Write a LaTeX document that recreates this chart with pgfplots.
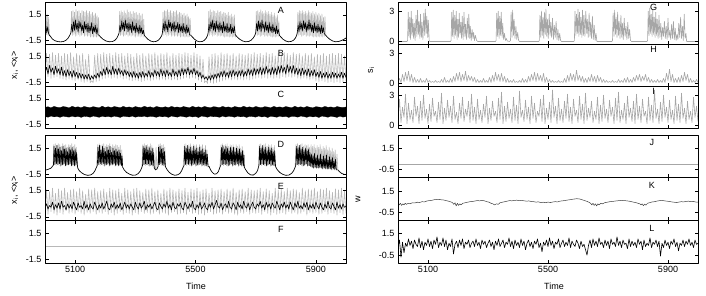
\documentclass[border=0pt]{standalone}
\usepackage{fontspec}
\setmainfont{Liberation Sans}
\usepackage{pgfplots}
\pgfplotsset{compat=1.18}
\definecolor{lg}{gray}{0.72}
\definecolor{mg}{gray}{0.65}
\pgfplotsset{
  pan/.style={scale only axis, anchor=north west, xmin=5000, xmax=6000,
    xtick={5100,5500,5900}, xticklabels={}, tick align=inside, major tick length=3.5pt,
    axis line style={line width=0.7pt}, every tick/.style={black,line width=0.6pt},
    axis on top, clip=true, line join=round},
  lft/.style={pan, width=301pt, ymin=-1.9, ymax=3, ytick={-1.5,1.5}, yticklabels={-1.5,1.5}},
  rtop/.style={pan, width=300pt, ymin=-0.25, ymax=3.9, ytick={0,3}, yticklabels={0,3}},
  rbot/.style={pan, width=300pt, ymin=-1.25, ymax=2.75, ytick={-0.5,1.5}, yticklabels={-0.5,1.5}},
}
\begin{document}
\begin{tikzpicture}[font=\fontsize{9}{10}\selectfont]
\path[use as bounding box] (0,0) rectangle (706pt,-295pt);
% ---------------- A
\begin{axis}[lft, at={(45pt,-2pt)}, height=42pt]
\addplot[lg, line width=0.6pt] coordinates {(5000,-0.9)(5002,1.8)(5005,-0.8)(5007,1.6)(5010,-0.9)(5012,1.2)(5015,-0.9)(5018,-1.0)
(5024,-1.3)(5032,-1.5)(5042,-1.62)(5052,-1.65)(5062,-1.6)(5070,-1.45)(5077,-1.2)(5082,-0.9)
(5086,-0.7)(5088,1.9)(5091,-0.9)(5093,2.0)(5096,-0.8)(5098,1.8)(5101,-1.0)(5103,2.1)(5106,-0.9)(5108,1.9)(5111,-0.8)(5113,2.0)(5116,-1.0)(5118,1.7)(5121,-0.9)(5123,2.0)(5126,-0.8)(5128,1.9)(5131,-1.0)(5133,1.8)(5136,-0.9)(5138,2.0)(5141,-1.0)(5143,1.7)(5146,-0.9)(5148,1.9)(5151,-1.1)(5153,1.6)(5156,-1.0)(5158,1.8)(5161,-1.1)(5163,1.5)(5166,-1.0)(5168,1.7)(5171,-1.1)(5173,1.4)(5176,-1.0)(5178,1.2)(5180,-0.9)
(5185,-1.1)(5193,-1.35)(5203,-1.55)(5213,-1.64)(5223,-1.62)(5231,-1.5)(5238,-1.25)(5243,-0.9)
(5246,-0.7)(5248,1.9)(5251,-0.9)(5253,2.0)(5256,-0.8)(5258,1.8)(5261,-1.0)(5263,2.0)(5266,-0.9)(5268,1.7)(5271,-0.8)(5273,2.1)(5276,-1.0)(5278,1.8)(5281,-0.9)(5283,1.9)(5286,-1.0)(5288,1.6)(5291,-0.9)(5293,1.9)(5296,-1.0)(5298,1.7)(5301,-1.1)(5303,1.8)(5306,-1.0)(5308,1.5)(5311,-1.0)(5313,1.7)(5316,-1.1)(5318,1.4)(5321,-1.0)(5323,1.6)(5326,-1.1)(5328,1.0)(5330,-0.9)
(5335,-1.1)(5342,-1.35)(5351,-1.55)(5360,-1.64)(5369,-1.6)(5377,-1.45)(5383,-1.2)(5388,-0.9)
(5390,-0.7)(5392,1.8)(5395,-0.9)(5397,2.0)(5400,-0.8)(5402,1.9)(5405,-1.0)(5407,2.1)(5410,-0.9)(5412,1.8)(5415,-0.8)(5417,2.0)(5420,-1.0)(5422,1.7)(5425,-0.9)(5427,1.9)(5430,-1.0)(5432,1.8)(5435,-0.9)(5437,2.0)(5440,-1.0)(5442,1.6)(5445,-0.9)(5447,1.8)(5450,-1.1)(5452,1.7)(5455,-1.0)(5457,1.5)(5460,-1.0)(5462,1.7)(5465,-1.1)(5467,1.4)(5470,-1.0)(5472,1.6)(5475,-1.1)(5477,1.3)(5480,-1.0)(5482,1.1)(5485,-0.9)
(5490,-1.1)(5497,-1.35)(5505,-1.55)(5514,-1.64)(5523,-1.6)(5530,-1.45)(5536,-1.2)(5540,-0.9)
(5542,-0.7)(5544,1.9)(5547,-0.9)(5549,2.1)(5552,-0.8)(5554,1.8)(5557,-1.0)(5559,2.0)(5562,-0.9)(5564,1.9)(5567,-0.8)(5569,1.7)(5572,-1.0)(5574,2.0)(5577,-0.9)(5579,1.8)(5582,-1.0)(5584,1.9)(5587,-0.9)(5589,1.6)(5592,-1.0)(5594,1.8)(5597,-1.1)(5599,1.7)(5602,-1.0)(5604,1.5)(5607,-1.0)(5609,1.8)(5612,-1.1)(5614,1.4)(5617,-1.0)(5619,1.6)(5622,-1.1)(5624,1.3)(5627,-1.0)(5629,1.5)(5632,-1.1)(5634,-0.9)
(5639,-1.1)(5647,-1.35)(5657,-1.55)(5667,-1.64)(5677,-1.6)(5685,-1.45)(5692,-1.2)(5697,-0.9)
(5700,-0.7)(5702,1.9)(5705,-0.9)(5707,2.0)(5710,-0.8)(5712,1.8)(5715,-1.0)(5717,2.1)(5720,-0.9)(5722,1.9)(5725,-0.8)(5727,1.7)(5730,-1.0)(5732,2.0)(5735,-0.9)(5737,1.8)(5740,-1.0)(5742,1.9)(5745,-0.9)(5747,1.6)(5750,-1.0)(5752,1.8)(5755,-1.1)(5757,1.5)(5760,-1.0)(5762,1.7)(5765,-1.1)(5767,1.3)(5770,-1.0)(5772,1.5)(5775,-1.0)(5777,0.8)(5779,-0.9)
(5784,-1.1)(5791,-1.35)(5800,-1.55)(5809,-1.64)(5818,-1.6)(5826,-1.45)(5832,-1.2)(5836,-0.9)
(5838,-0.7)(5840,1.8)(5843,-0.9)(5845,2.0)(5848,-0.8)(5850,1.9)(5853,-1.0)(5855,2.0)(5858,-0.9)(5860,1.8)(5863,-0.8)(5865,1.9)(5868,-1.0)(5870,1.7)(5873,-0.9)(5875,2.0)(5878,-1.0)(5880,1.8)(5883,-0.9)(5885,1.7)(5888,-1.0)(5890,1.9)(5893,-1.1)(5895,1.6)(5898,-1.0)(5900,1.8)(5903,-1.1)(5905,1.5)(5908,-1.0)(5910,1.7)(5913,-1.1)(5915,1.4)(5918,-1.0)(5920,1.6)(5923,-1.1)(5925,1.2)(5928,-1.0)(5930,1.3)(5933,-0.9)
(5938,-1.1)(5946,-1.35)(5956,-1.55)(5966,-1.64)(5976,-1.6)(5985,-1.5)(5993,-1.35)(6000,-1.2)};
\addplot[black, line width=0.6pt] coordinates {(5000,-0.9)(5003,0.2)(5006,-0.6)(5009,0.1)(5012,-0.7)(5015,-0.9)(5018,-1.0)
(5024,-1.3)(5032,-1.5)(5042,-1.62)(5052,-1.65)(5062,-1.6)(5070,-1.45)(5077,-1.2)(5082,-0.9)
(5086,-0.6)(5089,0.4)(5092,-0.5)(5095,0.7)(5098,-0.3)(5101,0.9)(5104,-0.2)(5107,0.5)(5110,-0.5)(5113,0.8)(5116,-0.1)(5119,0.6)(5122,-0.4)(5125,0.3)(5128,-0.6)(5131,0.7)(5134,-0.2)(5137,0.4)(5140,-0.5)(5143,0.5)(5146,-0.6)(5149,0.2)(5152,-0.4)(5155,0.6)(5158,-0.7)(5161,0.1)(5164,-0.5)(5167,0.3)(5170,-0.7)(5173,0.0)(5176,-0.8)(5180,-0.9)
(5185,-1.1)(5193,-1.35)(5203,-1.55)(5213,-1.64)(5223,-1.62)(5231,-1.5)(5238,-1.25)(5243,-0.9)
(5246,-0.6)(5249,0.3)(5252,-0.5)(5255,0.8)(5258,-0.2)(5261,0.6)(5264,-0.4)(5267,0.9)(5270,-0.1)(5273,0.5)(5276,-0.5)(5279,0.6)(5282,-0.3)(5285,0.4)(5288,-0.6)(5291,0.7)(5294,-0.3)(5297,0.2)(5300,-0.6)(5303,0.5)(5306,-0.5)(5309,0.1)(5312,-0.7)(5315,0.3)(5318,-0.6)(5321,0.0)(5324,-0.7)(5327,-0.3)(5330,-0.9)
(5335,-1.1)(5342,-1.35)(5351,-1.55)(5360,-1.64)(5369,-1.6)(5377,-1.45)(5383,-1.2)(5388,-0.9)
(5390,-0.6)(5393,0.5)(5396,-0.4)(5399,0.8)(5402,-0.2)(5405,0.4)(5408,-0.5)(5411,0.9)(5414,0.0)(5417,0.6)(5420,-0.4)(5423,0.5)(5426,-0.3)(5429,0.7)(5432,-0.5)(5435,0.3)(5438,-0.2)(5441,0.6)(5444,-0.6)(5447,0.4)(5450,-0.4)(5453,0.2)(5456,-0.6)(5459,0.5)(5462,-0.5)(5465,0.1)(5468,-0.7)(5471,0.3)(5474,-0.6)(5477,0.0)(5480,-0.8)(5485,-0.9)
(5490,-1.1)(5497,-1.35)(5505,-1.55)(5514,-1.64)(5523,-1.6)(5530,-1.45)(5536,-1.2)(5540,-0.9)
(5542,-0.6)(5545,0.4)(5548,-0.4)(5551,0.7)(5554,-0.1)(5557,0.9)(5560,-0.3)(5563,0.5)(5566,-0.5)(5569,0.8)(5572,-0.2)(5575,0.4)(5578,-0.5)(5581,0.6)(5584,-0.3)(5587,0.3)(5590,-0.6)(5593,0.7)(5596,-0.4)(5599,0.2)(5602,-0.5)(5605,0.5)(5608,-0.6)(5611,0.1)(5614,-0.5)(5617,0.4)(5620,-0.7)(5623,0.0)(5626,-0.6)(5629,0.2)(5632,-0.8)(5634,-0.9)
(5639,-1.1)(5647,-1.35)(5657,-1.55)(5667,-1.64)(5677,-1.6)(5685,-1.45)(5692,-1.2)(5697,-0.9)
(5700,-0.6)(5703,0.5)(5706,-0.4)(5709,0.8)(5712,-0.2)(5715,0.6)(5718,-0.5)(5721,0.9)(5724,-0.1)(5727,0.4)(5730,-0.5)(5733,0.7)(5736,-0.3)(5739,0.3)(5742,-0.6)(5745,0.6)(5748,-0.4)(5751,0.2)(5754,-0.6)(5757,0.4)(5760,-0.5)(5763,0.0)(5766,-0.7)(5769,0.2)(5772,-0.7)(5775,-0.2)(5779,-0.9)
(5784,-1.1)(5791,-1.35)(5800,-1.55)(5809,-1.64)(5818,-1.6)(5826,-1.45)(5832,-1.2)(5836,-0.9)
(5838,-0.6)(5841,0.3)(5844,-0.5)(5847,0.7)(5850,-0.2)(5853,0.5)(5856,-0.4)(5859,0.8)(5862,-0.1)(5865,0.6)(5868,-0.5)(5871,0.4)(5874,-0.3)(5877,0.9)(5880,-0.2)(5883,0.5)(5886,-0.5)(5889,0.3)(5892,-0.6)(5895,0.6)(5898,-0.4)(5901,0.2)(5904,-0.6)(5907,0.4)(5910,-0.5)(5913,0.1)(5916,-0.7)(5919,0.3)(5922,-0.6)(5925,0.0)(5928,-0.7)(5933,-0.9)
(5938,-1.1)(5946,-1.35)(5956,-1.55)(5966,-1.64)(5976,-1.6)(5985,-1.5)(5993,-1.35)(6000,-1.2)};
\node at (rel axis cs:0.784,0.8) {A};
\end{axis}
% ---------------- B
\begin{axis}[lft, at={(45pt,-44pt)}, height=42pt]
\addplot[lg, line width=0.6pt] coordinates {(5000,-0.9)(5005,1.9)(5010,-0.8)(5015,1.8)(5020,-1.0)(5025,2.0)(5030,-0.9)(5035,1.7)(5040,-0.8)(5045,1.9)(5050,-1.0)(5055,1.6)(5060,-1.1)(5065,1.9)(5070,-1.2)(5075,1.8)(5080,-1.1)(5085,2.0)(5090,-1.2)(5095,1.5)(5100,-1.3)(5105,1.9)(5110,-1.2)(5115,1.7)(5120,-1.4)(5125,1.9)(5130,-1.5)(5135,1.2)(5140,-1.4)(5145,1.8)(5150,-1.5)(5155,-1.3)(5160,-1.5)(5165,1.7)(5170,-1.4)(5175,1.9)(5180,-1.3)(5185,1.8)(5190,-1.1)(5195,2.0)(5200,-1.0)(5205,1.8)(5210,-0.9)(5215,1.9)(5220,-1.0)(5225,1.7)(5230,-0.9)(5235,2.0)(5240,-1.0)(5245,1.8)(5250,-0.9)(5255,1.9)(5260,-1.1)(5265,1.6)(5270,-1.0)(5275,1.9)(5280,-1.2)(5285,1.8)(5290,-1.3)(5295,1.5)(5300,-1.2)(5305,1.9)(5310,-1.3)(5315,1.7)(5320,-1.4)(5325,1.9)(5330,-1.3)(5335,1.6)(5340,-1.2)(5345,1.9)(5350,-1.3)(5355,1.8)(5360,-1.2)(5365,2.0)(5370,-1.1)(5375,1.7)(5380,-1.2)(5385,1.9)(5390,-1.1)(5395,1.8)(5400,-1.2)(5405,2.0)(5410,-1.1)(5415,1.6)(5420,-1.2)(5425,1.9)(5430,-1.1)(5435,1.7)(5440,-1.2)(5445,1.9)(5450,-1.1)(5455,1.8)(5460,-1.0)(5465,2.0)(5470,-0.9)(5475,1.9)(5480,-1.0)(5485,1.7)(5490,-0.9)(5495,2.0)(5500,-1.0)(5505,1.8)(5510,-1.2)(5515,1.6)(5520,-1.4)(5525,1.2)(5530,-1.5)(5535,-1.3)(5540,-1.6)(5545,1.5)(5550,-1.5)(5555,1.8)(5560,-1.6)(5565,1.9)(5570,-1.5)(5575,1.7)(5580,-1.4)(5585,2.0)(5590,-1.3)(5595,1.8)(5600,-1.2)(5605,1.9)(5610,-1.1)(5615,1.7)(5620,-1.2)(5625,1.9)(5630,-1.1)(5635,1.6)(5640,-1.2)(5645,1.9)(5650,-1.1)(5655,1.8)(5660,-1.2)(5665,1.7)(5670,-1.1)(5675,1.9)(5680,-1.2)(5685,1.8)(5690,-1.1)(5695,2.0)(5700,-1.0)(5705,1.8)(5710,-0.9)(5715,1.9)(5720,-1.0)(5725,1.7)(5730,-0.9)(5735,2.0)(5740,-1.0)(5745,1.8)(5750,-0.9)(5755,1.9)(5760,-1.0)(5765,1.6)(5770,-0.9)(5775,1.9)(5780,-1.0)(5785,1.8)(5790,-0.8)(5795,2.0)(5800,-0.9)(5805,1.9)(5810,-0.8)(5815,1.7)(5820,-0.9)(5825,2.0)(5830,-0.8)(5835,1.8)(5840,-1.0)(5845,1.9)(5850,-1.1)(5855,1.6)(5860,-1.0)(5865,1.9)(5870,-1.1)(5875,1.7)(5880,-1.2)(5885,1.9)(5890,-1.1)(5895,1.5)(5900,-1.3)(5905,1.8)(5910,-1.4)(5915,1.7)(5920,-1.3)(5925,1.9)(5930,-1.4)(5935,1.6)(5940,-1.5)(5945,1.8)(5950,-1.4)(5955,1.9)(5960,-1.5)(5965,1.7)(5970,-1.4)(5975,1.9)(5980,-1.5)(5985,1.8)(5990,-1.4)(5995,1.6)(6000,-1.3)};
\addplot[black, line width=0.6pt] coordinates {(5000,-0.4)(5005,0.3)(5010,-0.5)(5015,0.5)(5020,-0.3)(5025,0.2)(5030,-0.6)(5035,0.4)(5040,-0.4)(5045,0.1)(5050,-0.6)(5055,0.3)(5060,-0.7)(5065,-0.1)(5070,-0.8)(5075,0.0)(5080,-0.7)(5085,-0.2)(5090,-0.9)(5095,-0.1)(5100,-0.8)(5105,-0.3)(5110,-1.0)(5115,-0.4)(5120,-1.0)(5125,-0.5)(5130,-1.1)(5135,-0.6)(5140,-1.1)(5145,-0.5)(5150,-1.2)(5155,-0.7)(5160,-1.1)(5165,-0.6)(5170,-1.0)(5175,-0.4)(5180,-0.9)(5185,-0.2)(5190,-0.7)(5195,0.1)(5200,-0.6)(5205,0.3)(5210,-0.5)(5215,0.0)(5220,-0.6)(5225,0.4)(5230,-0.5)(5235,0.1)(5240,-0.6)(5245,0.2)(5250,-0.5)(5255,-0.1)(5260,-0.7)(5265,0.0)(5270,-0.6)(5275,-0.2)(5280,-0.8)(5285,-0.3)(5290,-0.9)(5295,-0.2)(5300,-0.9)(5305,-0.4)(5310,-1.0)(5315,-0.3)(5320,-0.9)(5325,-0.2)(5330,-0.9)(5335,-0.4)(5340,-0.8)(5345,-0.1)(5350,-0.9)(5355,-0.3)(5360,-0.8)(5365,0.0)(5370,-0.7)(5375,-0.2)(5380,-0.8)(5385,0.1)(5390,-0.7)(5395,-0.1)(5400,-0.8)(5405,0.0)(5410,-0.7)(5415,-0.3)(5420,-0.8)(5425,0.1)(5430,-0.7)(5435,-0.2)(5440,-0.8)(5445,0.0)(5450,-0.7)(5455,0.2)(5460,-0.6)(5465,0.1)(5470,-0.5)(5475,0.3)(5480,-0.6)(5485,0.0)(5490,-0.5)(5495,0.2)(5500,-0.6)(5505,-0.1)(5510,-0.8)(5515,-0.3)(5520,-1.0)(5525,-0.6)(5530,-1.1)(5535,-0.8)(5540,-1.2)(5545,-0.7)(5550,-1.2)(5555,-0.6)(5560,-1.1)(5565,-0.5)(5570,-1.0)(5575,-0.4)(5580,-0.9)(5585,-0.2)(5590,-0.8)(5595,-0.1)(5600,-0.8)(5605,-0.3)(5610,-0.9)(5615,-0.1)(5620,-0.8)(5625,0.0)(5630,-0.7)(5635,-0.2)(5640,-0.8)(5645,-0.1)(5650,-0.7)(5655,0.0)(5660,-0.8)(5665,-0.2)(5670,-0.7)(5675,0.1)(5680,-0.6)(5685,0.0)(5690,-0.7)(5695,0.2)(5700,-0.6)(5705,0.1)(5710,-0.5)(5715,0.3)(5720,-0.6)(5725,0.2)(5730,-0.5)(5735,0.4)(5740,-0.4)(5745,0.1)(5750,-0.6)(5755,0.3)(5760,-0.5)(5765,0.2)(5770,-0.6)(5775,0.4)(5780,-0.4)(5785,0.5)(5790,-0.3)(5795,0.3)(5800,-0.5)(5805,0.6)(5810,-0.3)(5815,0.4)(5820,-0.4)(5825,0.5)(5830,-0.5)(5835,0.2)(5840,-0.6)(5845,0.1)(5850,-0.7)(5855,0.2)(5860,-0.6)(5865,0.0)(5870,-0.7)(5875,0.1)(5880,-0.8)(5885,-0.1)(5890,-0.7)(5895,0.0)(5900,-0.8)(5905,-0.3)(5910,-0.9)(5915,-0.2)(5920,-1.0)(5925,-0.4)(5930,-0.9)(5935,-0.3)(5940,-1.0)(5945,-0.5)(5950,-1.0)(5955,-0.3)(5960,-0.9)(5965,-0.4)(5970,-1.0)(5975,-0.5)(5980,-0.9)(5985,-0.3)(5990,-1.0)(5995,-0.4)(6000,-0.9)};
\node at (rel axis cs:0.784,0.78) {B};
\end{axis}
% ---------------- C
\begin{axis}[lft, at={(45pt,-86pt)}, height=42pt]
\addplot[fill=black, draw=black, line width=0.3pt] coordinates {(5000,0.50)(5010,0.58)(5020,0.45)(5030,0.62)(5040,0.52)(5050,0.47)(5060,0.60)(5070,0.55)(5080,0.44)(5090,0.63)(5100,0.51)(5110,0.57)(5120,0.46)(5130,0.61)(5140,0.53)(5150,0.48)(5160,0.59)(5170,0.52)(5180,0.45)(5190,0.64)(5200,0.49)(5210,0.58)(5220,0.47)(5230,0.60)(5240,0.54)(5250,0.46)(5260,0.62)(5270,0.50)(5280,0.56)(5290,0.45)(5300,0.60)(5310,0.52)(5320,0.48)(5330,0.63)(5340,0.51)(5350,0.57)(5360,0.44)(5370,0.61)(5380,0.53)(5390,0.49)(5400,0.58)(5410,0.46)(5420,0.62)(5430,0.51)(5440,0.55)(5450,0.47)(5460,0.60)(5470,0.53)(5480,0.45)(5490,0.63)(5500,0.50)(5510,0.57)(5520,0.48)(5530,0.61)(5540,0.52)(5550,0.46)(5560,0.59)(5570,0.54)(5580,0.47)(5590,0.62)(5600,0.51)(5610,0.56)(5620,0.45)(5630,0.60)(5640,0.53)(5650,0.49)(5660,0.63)(5670,0.50)(5680,0.57)(5690,0.46)(5700,0.61)(5710,0.52)(5720,0.47)(5730,0.59)(5740,0.54)(5750,0.45)(5760,0.62)(5770,0.51)(5780,0.56)(5790,0.48)(5800,0.60)(5810,0.53)(5820,0.46)(5830,0.63)(5840,0.50)(5850,0.57)(5860,0.47)(5870,0.61)(5880,0.52)(5890,0.45)(5900,0.59)(5910,0.54)(5920,0.48)(5930,0.62)(5940,0.51)(5950,0.56)(5960,0.46)(5970,0.60)(5980,0.53)(5990,0.49)(6000,0.55)
(6000,-0.56)(5990,-0.63)(5980,-0.51)(5970,-0.66)(5960,-0.58)(5950,-0.52)(5940,-0.64)(5930,-0.57)(5920,-0.50)(5910,-0.67)(5900,-0.55)(5890,-0.61)(5880,-0.52)(5870,-0.65)(5860,-0.57)(5850,-0.50)(5840,-0.63)(5830,-0.56)(5820,-0.53)(5810,-0.66)(5800,-0.54)(5790,-0.60)(5780,-0.51)(5770,-0.64)(5760,-0.58)(5750,-0.52)(5740,-0.67)(5730,-0.55)(5720,-0.61)(5710,-0.50)(5700,-0.63)(5690,-0.57)(5680,-0.53)(5670,-0.66)(5660,-0.55)(5650,-0.60)(5640,-0.51)(5630,-0.64)(5620,-0.56)(5610,-0.52)(5600,-0.62)(5590,-0.50)(5580,-0.65)(5570,-0.57)(5560,-0.59)(5550,-0.51)(5540,-0.64)(5530,-0.56)(5520,-0.50)(5510,-0.67)(5500,-0.55)(5490,-0.61)(5480,-0.52)(5470,-0.64)(5460,-0.57)(5450,-0.51)(5440,-0.63)(5430,-0.58)(5420,-0.50)(5410,-0.66)(5400,-0.54)(5390,-0.60)(5380,-0.52)(5370,-0.65)(5360,-0.57)(5350,-0.53)(5340,-0.62)(5330,-0.51)(5320,-0.59)(5310,-0.55)(5300,-0.64)(5290,-0.50)(5280,-0.61)(5270,-0.56)(5260,-0.52)(5250,-0.66)(5240,-0.58)(5230,-0.51)(5220,-0.63)(5210,-0.55)(5200,-0.60)(5190,-0.52)(5180,-0.65)(5170,-0.57)(5160,-0.50)(5150,-0.64)(5140,-0.56)(5130,-0.53)(5120,-0.66)(5110,-0.54)(5100,-0.61)(5090,-0.51)(5080,-0.63)(5070,-0.58)(5060,-0.52)(5050,-0.65)(5040,-0.55)(5030,-0.60)(5020,-0.50)(5010,-0.64)(5000,-0.56)};
\node at (rel axis cs:0.784,0.79) {C};
\end{axis}
% ---------------- D
\begin{axis}[lft, at={(45pt,-135pt)}, height=42.67pt]
\addplot[lg, line width=0.6pt] coordinates {(5000,-1.05)(5010,-0.95)(5020,-0.8)(5027,-0.5)
(5029,1.9)(5032,-0.4)(5034,2.0)(5037,-0.5)(5039,1.8)(5042,-0.4)(5044,2.0)(5047,-0.5)(5049,1.9)(5052,-0.6)(5054,1.7)(5057,-0.5)(5059,2.0)(5062,-0.4)(5064,1.8)(5067,-0.6)(5069,1.9)(5072,-0.5)(5074,1.6)(5077,-0.5)(5079,1.9)(5082,-0.4)(5084,1.8)(5087,-0.6)(5089,2.0)(5092,-0.5)(5094,1.7)(5097,-0.6)(5099,1.9)(5102,-0.5)(5104,1.6)(5107,-0.6)(5109,-0.8)
(5114,-1.1)(5122,-1.35)(5132,-1.55)(5142,-1.63)(5152,-1.58)(5160,-1.4)(5166,-1.1)(5171,-0.7)
(5175,1.9)(5178,-0.4)(5180,2.0)(5183,-0.5)(5185,1.8)(5188,-0.4)(5190,1.9)(5193,-0.5)(5195,2.0)(5198,-0.6)(5200,1.7)(5203,-0.5)(5205,1.9)(5208,-0.4)(5210,1.8)(5213,-0.6)(5215,2.0)(5218,-0.5)(5220,1.6)(5223,-0.5)(5225,1.9)(5228,-0.4)(5230,1.7)(5233,-0.6)(5235,1.9)(5238,-0.5)(5240,1.8)(5243,-0.6)(5245,1.6)(5248,-0.5)(5250,1.8)(5253,-0.6)(5255,1.3)(5258,-0.7)
(5263,-1.0)(5271,-1.3)(5281,-1.5)(5291,-1.62)(5301,-1.6)(5310,-1.42)(5317,-1.1)(5322,-0.7)
(5325,1.9)(5328,-0.4)(5330,2.0)(5333,-0.5)(5335,1.8)(5338,-0.4)(5340,1.9)(5343,-0.5)(5345,1.7)(5348,-0.6)(5350,2.0)(5353,-0.5)(5355,1.8)(5358,-0.6)(5360,1.5)(5363,-0.8)(5367,-1.0)(5369,1.6)(5372,-0.9)(5376,-0.6)(5378,1.9)(5381,-0.4)(5383,2.0)(5386,-0.5)(5388,1.8)(5391,-0.5)(5393,1.9)(5396,-0.6)(5398,1.6)(5401,-0.7)
(5406,-1.0)(5413,-1.3)(5422,-1.52)(5431,-1.62)(5440,-1.58)(5448,-1.42)(5454,-1.1)(5459,-0.7)
(5463,1.9)(5466,-0.4)(5468,2.0)(5471,-0.5)(5473,1.8)(5476,-0.4)(5478,1.9)(5481,-0.5)(5483,2.0)(5486,-0.6)(5488,1.7)(5491,-0.5)(5493,1.9)(5496,-0.4)(5498,1.8)(5501,-0.6)(5503,1.9)(5506,-0.5)(5508,1.6)(5511,-0.5)(5513,1.9)(5516,-0.4)(5518,1.7)(5521,-0.6)(5523,1.9)(5526,-0.5)(5528,1.5)(5531,-0.6)(5533,1.8)(5536,-0.6)(5538,1.3)(5541,-0.7)(5545,-0.6)
(5550,-1.0)(5556,-1.3)(5563,-1.5)(5570,-1.45)(5576,-1.2)(5581,-0.7)
(5585,1.9)(5588,-0.4)(5590,2.0)(5593,-0.5)(5595,1.8)(5598,-0.4)(5600,1.9)(5603,-0.5)(5605,2.0)(5608,-0.6)(5610,1.7)(5613,-0.5)(5615,1.9)(5618,-0.4)(5620,1.8)(5623,-0.6)(5625,1.9)(5628,-0.5)(5630,1.6)(5633,-0.5)(5635,1.9)(5638,-0.4)(5640,1.7)(5643,-0.6)(5645,1.9)(5648,-0.5)(5650,1.5)(5653,-0.6)(5655,1.7)(5658,-0.6)(5660,1.2)(5662,-0.7)
(5667,-1.0)(5674,-1.35)(5683,-1.58)(5692,-1.6)(5700,-1.4)(5706,-1.1)(5709,-0.7)
(5712,1.9)(5715,-0.4)(5717,2.0)(5720,-0.5)(5722,1.8)(5725,-0.4)(5727,1.9)(5730,-0.5)(5732,2.0)(5735,-0.6)(5737,1.7)(5740,-0.5)(5742,1.9)(5745,-0.4)(5747,1.8)(5750,-0.6)(5752,1.9)(5755,-0.5)(5757,1.6)(5760,-0.5)(5762,1.8)(5765,-0.6)(5767,-0.7)
(5772,-1.0)(5780,-1.3)(5790,-1.52)(5800,-1.63)(5810,-1.6)(5819,-1.42)(5826,-1.1)(5831,-0.7)
(5834,1.9)(5837,-0.4)(5839,2.0)(5842,-0.5)(5844,1.8)(5847,-0.4)(5849,1.9)(5852,-0.5)(5854,2.0)(5857,-0.6)(5859,1.7)(5862,-0.5)(5864,1.9)(5867,-0.4)(5869,1.8)(5872,-0.6)(5874,1.9)(5877,-0.5)(5879,1.6)(5882,-0.6)(5884,1.9)(5887,-0.7)(5889,1.7)(5892,-0.8)(5894,1.9)(5897,-0.7)(5899,1.5)(5902,-0.8)(5904,1.8)(5907,-0.7)(5909,1.6)(5912,-0.8)(5914,1.9)(5917,-0.7)(5919,1.4)(5922,-0.8)(5924,1.7)(5927,-0.7)(5929,1.5)(5932,-0.8)(5934,1.8)(5937,-0.8)(5939,1.3)(5942,-0.8)(5944,1.6)(5947,-0.8)(5949,1.2)(5952,-0.9)(5954,1.5)(5957,-0.8)(5959,1.1)(5962,-0.9)(5964,1.3)(5967,-0.9)(5970,0.8)(5973,-1.0)
(5978,-1.2)(5985,-1.4)(5992,-1.5)(6000,-1.55)};
\addplot[black, line width=0.6pt] coordinates {(5000,-1.05)(5010,-0.95)(5020,-0.8)(5027,-0.5)
(5028,-0.5)(5030,1.7)(5033,-0.4)(5035,1.5)(5038,-0.3)(5040,1.8)(5043,-0.4)(5045,1.4)(5048,-0.3)(5050,1.6)(5053,-0.5)(5055,1.2)(5058,-0.4)(5060,1.7)(5063,-0.3)(5065,1.4)(5068,-0.5)(5070,1.5)(5073,-0.4)(5075,1.1)(5078,-0.4)(5080,1.6)(5083,-0.3)(5085,1.3)(5088,-0.5)(5090,1.6)(5093,-0.4)(5095,1.2)(5098,-0.5)(5100,1.4)(5103,-0.4)(5105,1.0)(5108,-0.6)(5109,-0.8)
(5114,-1.1)(5122,-1.35)(5132,-1.55)(5142,-1.63)(5152,-1.58)(5160,-1.4)(5166,-1.1)(5171,-0.7)
(5174,-0.5)(5176,1.6)(5179,-0.4)(5181,1.8)(5184,-0.3)(5186,1.3)(5189,-0.4)(5191,1.7)(5194,-0.3)(5196,1.5)(5199,-0.5)(5201,1.1)(5204,-0.4)(5206,1.6)(5209,-0.3)(5211,1.3)(5214,-0.5)(5216,1.7)(5219,-0.4)(5221,1.0)(5224,-0.4)(5226,1.5)(5229,-0.3)(5231,1.2)(5234,-0.5)(5236,1.4)(5239,-0.4)(5241,1.1)(5244,-0.5)(5246,1.3)(5249,-0.4)(5251,0.9)(5254,-0.5)(5256,0.6)(5258,-0.7)
(5263,-1.0)(5271,-1.3)(5281,-1.5)(5291,-1.62)(5301,-1.6)(5310,-1.42)(5317,-1.1)(5322,-0.7)
(5324,-0.5)(5326,1.7)(5329,-0.4)(5331,1.5)(5334,-0.3)(5336,1.8)(5339,-0.4)(5341,1.3)(5344,-0.3)(5346,1.6)(5349,-0.5)(5351,1.2)(5354,-0.4)(5356,1.5)(5359,-0.5)(5361,1.0)(5363,-0.8)(5367,-1.0)(5372,-0.9)(5376,-0.6)(5377,1.6)(5380,-0.4)(5382,1.7)(5385,-0.3)(5387,1.4)(5390,-0.4)(5392,1.5)(5395,-0.5)(5397,1.1)(5400,-0.6)(5401,-0.7)
(5406,-1.0)(5413,-1.3)(5422,-1.52)(5431,-1.62)(5440,-1.58)(5448,-1.42)(5454,-1.1)(5459,-0.7)
(5462,-0.5)(5464,1.7)(5467,-0.4)(5469,1.5)(5472,-0.3)(5474,1.8)(5477,-0.4)(5479,1.4)(5482,-0.3)(5484,1.6)(5487,-0.5)(5489,1.2)(5492,-0.4)(5494,1.7)(5497,-0.3)(5499,1.3)(5502,-0.5)(5504,1.5)(5507,-0.4)(5509,1.1)(5512,-0.4)(5514,1.6)(5517,-0.3)(5519,1.2)(5522,-0.5)(5524,1.4)(5527,-0.4)(5529,1.0)(5532,-0.5)(5534,1.3)(5537,-0.5)(5539,0.8)(5542,-0.6)(5545,-0.6)
(5550,-1.0)(5556,-1.3)(5563,-1.5)(5570,-1.45)(5576,-1.2)(5581,-0.7)
(5584,-0.5)(5586,1.6)(5589,-0.4)(5591,1.8)(5594,-0.3)(5596,1.4)(5599,-0.4)(5601,1.7)(5604,-0.3)(5606,1.5)(5609,-0.5)(5611,1.2)(5614,-0.4)(5616,1.6)(5619,-0.3)(5621,1.3)(5624,-0.5)(5626,1.6)(5629,-0.4)(5631,1.1)(5634,-0.4)(5636,1.5)(5639,-0.3)(5641,1.2)(5644,-0.5)(5646,1.4)(5649,-0.4)(5651,1.0)(5654,-0.5)(5656,1.2)(5659,-0.5)(5661,0.7)(5662,-0.7)
(5667,-1.0)(5674,-1.35)(5683,-1.58)(5692,-1.6)(5700,-1.4)(5706,-1.1)(5709,-0.7)
(5711,-0.5)(5713,1.7)(5716,-0.4)(5718,1.5)(5721,-0.3)(5723,1.8)(5726,-0.4)(5728,1.4)(5731,-0.3)(5733,1.6)(5736,-0.5)(5738,1.2)(5741,-0.4)(5743,1.6)(5746,-0.3)(5748,1.3)(5751,-0.5)(5753,1.5)(5756,-0.4)(5758,1.1)(5761,-0.5)(5763,1.2)(5766,-0.6)(5767,-0.7)
(5772,-1.0)(5780,-1.3)(5790,-1.52)(5800,-1.63)(5810,-1.6)(5819,-1.42)(5826,-1.1)(5831,-0.7)
(5833,-0.5)(5835,1.7)(5838,-0.4)(5840,1.5)(5843,-0.3)(5845,1.8)(5848,-0.4)(5850,1.4)(5853,-0.3)(5855,1.6)(5858,-0.5)(5860,1.2)(5863,-0.4)(5865,1.5)(5868,-0.3)(5870,1.3)(5873,-0.5)(5875,1.4)(5878,-0.5)(5880,1.0)(5883,-0.6)(5885,0.8)(5888,-0.7)(5890,0.6)(5893,-0.8)(5895,0.9)(5898,-0.7)(5900,0.4)(5903,-0.8)(5905,0.7)(5908,-0.8)(5910,0.3)(5913,-0.7)(5915,0.8)(5918,-0.8)(5920,0.2)(5923,-0.9)(5925,0.6)(5928,-0.8)(5930,0.3)(5933,-0.9)(5935,0.7)(5938,-0.9)(5940,0.1)(5943,-0.9)(5945,0.5)(5948,-0.9)(5950,0.2)(5953,-1.0)(5955,0.4)(5958,-0.9)(5960,0.0)(5963,-1.0)(5965,0.2)(5968,-1.0)(5973,-1.0)
(5978,-1.2)(5985,-1.4)(5992,-1.5)(6000,-1.55)};
\node at (rel axis cs:0.784,0.77) {D};
\end{axis}
% ---------------- E
\begin{axis}[lft, at={(45pt,-177.67pt)}, height=42.67pt]
\addplot[lg, line width=0.6pt] coordinates {(5000,-1.0)(5005,1.6)(5010,-1.2)(5015,1.4)(5020,-0.9)(5025,1.8)(5030,-1.1)(5035,1.2)(5040,-1.3)(5045,1.7)(5050,-1.0)(5055,1.5)(5060,-1.2)(5065,1.8)(5070,-0.8)(5075,1.3)(5080,-1.1)(5085,1.6)(5090,-1.0)(5095,1.7)
(5100,-1.2)(5105,1.4)(5110,-0.9)(5115,1.8)(5120,-1.1)(5125,1.5)(5130,-1.3)(5135,1.1)(5140,-1.0)(5145,1.7)(5150,-1.1)(5155,1.6)(5160,-0.9)(5165,1.8)(5170,-1.2)(5175,1.4)(5180,-1.0)(5185,1.5)(5190,-1.1)(5195,1.7)
(5200,-0.9)(5205,1.3)(5210,-1.2)(5215,1.8)(5220,-1.0)(5225,1.6)(5230,-1.3)(5235,1.5)(5240,-1.1)(5245,1.7)(5250,-0.9)(5255,1.2)(5260,-1.2)(5265,1.8)(5270,-1.0)(5275,1.6)(5280,-1.1)(5285,1.4)(5290,-1.3)(5295,1.7)
(5300,-1.0)(5305,1.8)(5310,-1.2)(5315,1.5)(5320,-0.9)(5325,1.3)(5330,-1.1)(5335,1.7)(5340,-1.0)(5345,1.6)(5350,-1.2)(5355,1.8)(5360,-1.1)(5365,1.4)(5370,-0.9)(5375,1.6)(5380,-1.2)(5385,1.2)(5390,-1.0)(5395,1.7)
(5400,-1.1)(5405,1.5)(5410,-1.3)(5415,1.8)(5420,-1.0)(5425,1.6)(5430,-0.9)(5435,1.4)(5440,-1.2)(5445,1.7)(5450,-1.1)(5455,1.5)(5460,-1.0)(5465,1.8)(5470,-1.2)(5475,1.3)(5480,-0.9)(5485,1.7)(5490,-1.1)(5495,1.6)
(5500,-1.0)(5505,1.8)(5510,-1.2)(5515,1.4)(5520,-1.1)(5525,1.6)(5530,-1.3)(5535,1.7)(5540,-1.0)(5545,1.2)(5550,-0.9)(5555,1.8)(5560,-1.2)(5565,1.5)(5570,-1.1)(5575,1.6)(5580,-1.0)(5585,1.7)(5590,-1.2)(5595,1.4)
(5600,-0.9)(5605,1.7)(5610,-1.1)(5615,1.5)(5620,-1.0)(5625,1.8)(5630,-1.2)(5635,1.3)(5640,-1.3)(5645,1.6)(5650,-1.0)(5655,1.7)(5660,-1.1)(5665,1.4)(5670,-0.9)(5675,1.8)(5680,-1.2)(5685,1.6)(5690,-1.0)(5695,1.5)
(5700,-1.1)(5705,1.6)(5710,-1.0)(5715,1.8)(5720,-1.2)(5725,1.4)(5730,-0.9)(5735,1.7)(5740,-1.1)(5745,1.5)(5750,-1.3)(5755,1.2)(5760,-1.0)(5765,1.8)(5770,-1.2)(5775,1.6)(5780,-1.1)(5785,1.7)(5790,-1.0)(5795,1.4)
(5800,-1.2)(5805,1.8)(5810,-0.9)(5815,1.5)(5820,-1.1)(5825,1.7)(5830,-1.0)(5835,1.6)(5840,-1.2)(5845,1.3)(5850,-1.1)(5855,1.8)(5860,-0.9)(5865,1.5)(5870,-1.3)(5875,1.7)(5880,-1.0)(5885,1.6)(5890,-1.1)(5895,1.8)
(5900,-1.0)(5905,1.4)(5910,-1.2)(5915,1.7)(5920,-1.1)(5925,1.6)(5930,-0.9)(5935,1.8)(5940,-1.2)(5945,1.5)(5950,-1.0)(5955,1.3)(5960,-1.1)(5965,1.7)(5970,-1.3)(5975,1.6)(5980,-1.0)(5985,1.8)(5990,-1.2)(5995,1.5)(6000,-1.1)};
\addplot[black, line width=0.6pt] coordinates {(5000,-0.5)(5005,0.0)(5010,-0.6)(5015,-0.2)(5020,-0.4)(5025,0.2)(5030,-0.7)(5035,-0.1)(5040,-0.5)(5045,0.1)(5050,-0.6)(5055,0.3)(5060,-0.4)(5065,-0.2)(5070,-0.7)(5075,0.0)(5080,-0.5)(5085,-0.1)(5090,-0.6)(5095,0.2)
(5100,-0.3)(5105,-0.7)(5110,0.1)(5115,-0.4)(5120,-0.2)(5125,-0.6)(5130,0.3)(5135,-0.5)(5140,-0.1)(5145,-0.7)(5150,0.0)(5155,-0.4)(5160,-0.6)(5165,0.2)(5170,-0.3)(5175,-0.7)(5180,-0.1)(5185,-0.5)(5190,0.1)(5195,-0.6)
(5200,-0.2)(5205,0.3)(5210,-0.5)(5215,-0.7)(5220,0.0)(5225,-0.4)(5230,0.2)(5235,-0.6)(5240,-0.1)(5245,-0.5)(5250,0.1)(5255,-0.7)(5260,-0.3)(5265,0.2)(5270,-0.5)(5275,-0.1)(5280,-0.6)(5285,0.0)(5290,-0.4)(5295,-0.7)
(5300,0.2)(5305,-0.3)(5310,-0.6)(5315,0.1)(5320,-0.5)(5325,-0.2)(5330,0.3)(5335,-0.7)(5340,-0.1)(5345,-0.4)(5350,0.0)(5355,-0.6)(5360,-0.2)(5365,0.2)(5370,-0.5)(5375,-0.7)(5380,0.1)(5385,-0.3)(5390,-0.6)(5395,0.0)
(5400,-0.4)(5405,0.3)(5410,-0.5)(5415,-0.1)(5420,-0.7)(5425,0.2)(5430,-0.4)(5435,-0.6)(5440,0.0)(5445,-0.3)(5450,0.1)(5455,-0.5)(5460,-0.7)(5465,0.2)(5470,-0.2)(5475,-0.6)(5480,0.0)(5485,-0.4)(5490,0.3)(5495,-0.5)
(5500,-0.7)(5505,-0.1)(5510,-0.5)(5515,0.2)(5520,-0.6)(5525,-0.3)(5530,0.1)(5535,-0.5)(5540,-0.7)(5545,0.0)(5550,-0.4)(5555,0.2)(5560,-0.6)(5565,-0.1)(5570,0.4)(5575,-0.3)(5580,-0.5)(5585,0.1)(5590,-0.7)(5595,-0.2)
(5600,0.0)(5605,-0.5)(5610,0.3)(5615,-0.4)(5620,-0.6)(5625,0.1)(5630,-0.2)(5635,-0.7)(5640,0.2)(5645,-0.4)(5650,-0.1)(5655,-0.6)(5660,0.3)(5665,-0.3)(5670,-0.5)(5675,0.1)(5680,-0.7)(5685,-0.2)(5690,0.2)(5695,-0.4)
(5700,-0.6)(5705,0.0)(5710,-0.3)(5715,0.3)(5720,-0.5)(5725,-0.1)(5730,-0.7)(5735,0.2)(5740,-0.4)(5745,0.0)(5750,-0.6)(5755,0.1)(5760,-0.3)(5765,-0.5)(5770,0.3)(5775,-0.2)(5780,-0.7)(5785,0.0)(5790,-0.4)(5795,0.2)
(5800,-0.5)(5805,-0.1)(5810,-0.6)(5815,0.2)(5820,-0.3)(5825,-0.7)(5830,0.1)(5835,-0.4)(5840,0.3)(5845,-0.5)(5850,-0.2)(5855,-0.6)(5860,0.1)(5865,-0.4)(5870,0.2)(5875,-0.7)(5880,-0.1)(5885,-0.5)(5890,0.0)(5895,-0.6)
(5900,0.2)(5905,-0.3)(5910,-0.6)(5915,0.1)(5920,-0.4)(5925,-0.7)(5930,0.0)(5935,-0.5)(5940,0.3)(5945,-0.4)(5950,-0.6)(5955,0.1)(5960,-0.3)(5965,-0.7)(5970,0.2)(5975,-0.5)(5980,-0.1)(5985,-0.6)(5990,0.0)(5995,-0.4)(6000,-0.3)};
\node at (rel axis cs:0.784,0.79) {E};
\end{axis}
% ---------------- F
\begin{axis}[lft, at={(45pt,-220.33pt)}, height=42.67pt, xticklabels={5100,5500,5900}]
\addplot[lg, line width=0.6pt] coordinates {(5000,0)(6000,0)};
\node at (rel axis cs:0.784,0.79) {F};
\end{axis}
% ---------------- G
\begin{axis}[rtop, at={(398pt,-2pt)}, height=42pt]
\addplot[mg, line width=0.6pt] coordinates {(5000,0)(5030,0)
(5032,0.1)(5034,2.9)(5037,0.4)(5039,2.4)(5042,0.2)(5044,3.0)(5047,0.6)(5049,2.2)(5052,0.3)(5054,1.8)(5057,0.1)(5060,2.6)(5063,0.5)(5065,3.1)(5068,0.7)(5070,2.0)(5073,0.3)(5075,2.7)(5078,0.4)(5080,1.9)(5083,0.2)(5086,2.8)(5089,0.6)(5091,3.2)(5094,0.8)(5096,2.5)(5099,0.4)(5101,2.1)(5104,0.1)(5106,0)
(5175,0)(5177,0.1)(5179,2.9)(5182,0.5)(5184,3.1)(5187,0.3)(5189,2.6)(5192,0.6)(5194,3.0)(5197,0.2)(5199,2.2)(5202,0.4)(5204,2.8)(5207,0.7)(5209,1.9)(5212,0.3)(5214,2.5)(5217,0.2)(5220,2.9)(5223,0.5)(5225,1.7)(5228,0.2)(5231,2.3)(5234,0.4)(5236,2.7)(5239,0.3)(5241,1.5)(5244,0.1)(5247,1.2)(5250,0.3)(5252,0.9)(5255,0.1)(5258,0.6)(5262,0.1)(5266,0)
(5325,0)(5327,0.1)(5329,2.8)(5332,0.5)(5334,3.0)(5337,0.3)(5339,2.5)(5342,0.6)(5344,2.9)(5347,0.4)(5349,1.8)(5352,0.2)(5355,0.8)(5358,0.1)(5361,0.3)(5364,0.05)(5372,0)(5375,0.1)(5377,2.9)(5380,0.4)(5382,3.1)(5385,0.6)(5387,2.2)(5390,0.3)(5393,1.5)(5396,0.2)(5399,0.9)(5402,0.1)(5405,0)
(5469,0)(5471,0.1)(5473,2.6)(5476,0.4)(5478,3.0)(5481,0.6)(5483,2.4)(5486,0.3)(5488,2.9)(5491,0.7)(5493,3.2)(5496,0.5)(5498,2.2)(5501,0.3)(5504,2.7)(5507,0.6)(5509,1.9)(5512,0.4)(5515,2.3)(5518,0.2)(5521,1.6)(5524,0.4)(5527,2.0)(5530,0.2)(5533,1.2)(5536,0.1)(5539,0.8)(5542,0.1)(5545,0)
(5586,0)(5588,0.1)(5590,3.0)(5593,0.6)(5595,2.7)(5598,0.8)(5600,3.2)(5603,0.5)(5605,2.9)(5608,0.7)(5610,2.4)(5613,0.4)(5615,3.1)(5618,0.6)(5620,2.6)(5623,0.5)(5626,3.0)(5629,0.8)(5631,2.2)(5634,0.4)(5637,2.8)(5640,0.5)(5642,1.9)(5645,0.3)(5648,2.5)(5651,0.2)(5654,1.6)(5657,0.1)(5660,0.8)(5663,0)
(5713,0)(5715,0.1)(5717,2.8)(5720,0.5)(5722,3.1)(5725,0.7)(5727,2.4)(5730,0.4)(5732,2.9)(5735,0.6)(5737,2.0)(5740,0.3)(5743,2.6)(5746,0.4)(5748,1.8)(5751,0.2)(5754,2.3)(5757,0.5)(5760,1.5)(5763,0.2)(5766,1.9)(5769,0.3)(5772,1.2)(5775,0.1)(5778,0)
(5830,0)(5832,0.1)(5834,3.0)(5837,0.6)(5839,3.3)(5842,0.8)(5844,2.7)(5847,0.5)(5849,3.1)(5852,0.7)(5854,2.4)(5857,0.4)(5859,2.9)(5862,0.6)(5864,2.2)(5867,0.3)(5870,2.6)(5873,0.4)(5876,1.8)(5879,0.2)(5882,1.4)(5885,0.5)(5888,2.0)(5891,0.3)(5894,1.5)(5897,0.2)(5900,2.3)(5903,0.4)(5906,1.1)(5909,0.2)(5912,1.7)(5915,0.3)(5918,2.0)(5921,0.2)(5924,1.3)(5927,0.1)(5930,0.7)(5933,0.2)(5936,1.8)(5939,0.4)(5942,2.4)(5945,0.3)(5948,1.5)(5951,0.1)(5954,2.7)(5957,0.3)(5960,0.8)(5962,0)(6000,0)};
\node at (rel axis cs:0.852,0.88) {G};
\end{axis}
% ---------------- H
\begin{axis}[rtop, at={(398pt,-44pt)}, height=42pt]
\addplot[mg, line width=0.6pt] coordinates {(5000,0.1)(5005,0.5)(5010,0.1)(5015,0.9)(5020,0.2)(5025,1.1)(5030,0.3)(5035,1.2)(5040,0.2)(5045,0.9)(5050,0.1)(5055,0.6)(5060,0.1)(5065,0.4)(5070,0.1)(5075,0.5)(5080,0.1)(5085,0.3)(5090,0.1)(5095,0.5)(5100,0.1)(5105,0.3)(5110,0.1)(5115,0.2)(5120,0.1)(5125,0.3)(5130,0.1)(5135,0.2)(5140,0.1)(5145,0.4)(5150,0.1)(5155,0.6)(5160,0.1)(5165,0.3)(5170,0.1)(5175,0.5)(5180,0.1)(5185,0.7)(5190,0.2)(5195,1.0)(5200,0.3)(5205,1.1)(5210,0.2)(5215,0.9)(5220,0.3)(5225,1.2)(5230,0.2)(5235,0.8)(5240,0.3)(5245,0.7)(5250,0.2)(5255,0.6)(5260,0.1)(5265,0.4)(5270,0.1)(5275,0.3)(5280,0.1)(5285,0.5)(5290,0.1)(5295,0.3)(5300,0.1)(5305,0.6)(5310,0.1)(5315,0.8)(5320,0.2)(5325,1.1)(5330,0.3)(5335,0.9)(5340,0.2)(5345,1.0)(5350,0.2)(5355,0.7)(5360,0.1)(5365,0.5)(5370,0.1)(5375,0.3)(5380,0.1)(5385,0.4)(5390,0.1)(5395,0.2)(5400,0.1)(5405,0.3)(5410,0.1)(5415,0.5)(5420,0.1)(5425,0.4)(5430,0.1)(5435,0.7)(5440,0.2)(5445,0.9)(5450,0.3)(5455,1.1)(5460,0.2)(5465,1.0)(5470,0.3)(5475,0.8)(5480,0.2)(5485,1.0)(5490,0.1)(5495,0.6)(5500,0.1)(5505,0.4)(5510,0.1)(5515,0.3)(5520,0.1)(5525,0.2)(5530,0.1)(5535,0.3)(5540,0.1)(5545,0.2)(5550,0.1)(5555,0.5)(5560,0.1)(5565,0.8)(5570,0.2)(5575,1.0)(5580,0.3)(5585,0.9)(5590,0.2)(5595,1.3)(5600,0.3)(5605,0.8)(5610,0.2)(5615,0.7)(5620,0.1)(5625,0.5)(5630,0.1)(5635,0.6)(5640,0.2)(5645,0.9)(5650,0.2)(5655,0.7)(5660,0.1)(5665,0.8)(5670,0.2)(5675,0.6)(5680,0.1)(5685,0.4)(5690,0.1)(5695,0.3)(5700,0.1)(5705,0.2)(5710,0.1)(5715,0.3)(5720,0.1)(5725,0.2)(5730,0.1)(5735,0.4)(5740,0.1)(5745,0.3)(5750,0.1)(5755,0.5)(5760,0.1)(5765,0.6)(5770,0.1)(5775,0.4)(5780,0.1)(5785,0.6)(5790,0.2)(5795,0.8)(5800,0.3)(5805,0.9)(5810,0.2)(5815,0.7)(5820,0.3)(5825,0.9)(5830,0.2)(5835,0.6)(5840,0.1)(5845,0.4)(5850,0.1)(5855,0.3)(5860,0.1)(5865,0.4)(5870,0.1)(5875,0.3)(5880,0.1)(5885,0.5)(5890,0.1)(5895,1.0)(5900,0.3)(5905,1.4)(5910,0.2)(5915,0.9)(5920,0.1)(5925,0.5)(5930,0.1)(5935,0.6)(5940,0.1)(5945,0.8)(5950,0.2)(5955,1.1)(5960,0.3)(5965,0.9)(5970,0.1)(5975,0.5)(5980,0.1)(5985,0.3)(5990,0.1)(5995,0.4)(6000,0.1)};
\node at (rel axis cs:0.852,0.87) {H};
\end{axis}
% ---------------- I
\begin{axis}[rtop, at={(398pt,-86pt)}, height=42pt]
\addplot[mg, line width=0.6pt] coordinates {(5000,0.5)(5005,2.6)(5010,0.3)(5015,1.8)(5020,0.8)(5025,3.1)(5030,0.2)(5035,2.2)(5040,0.6)(5045,1.5)(5050,0.3)(5055,2.8)(5060,0.9)(5065,1.9)(5070,0.2)(5075,2.4)(5080,0.5)(5085,3.0)(5090,0.7)(5095,1.6)(5100,0.2)(5105,2.1)(5110,0.4)(5115,2.7)(5120,0.9)(5125,1.4)(5130,0.3)(5135,2.3)(5140,0.6)(5145,3.2)(5150,0.2)(5155,1.7)(5160,0.5)(5165,2.5)(5170,0.8)(5175,1.9)(5180,0.3)(5185,2.9)(5190,0.6)(5195,1.3)(5200,0.2)(5205,2.2)(5210,0.7)(5215,2.8)(5220,0.4)(5225,1.6)(5230,0.9)(5235,2.4)(5240,0.3)(5245,3.1)(5250,0.5)(5255,1.8)(5260,0.2)(5265,2.6)(5270,0.6)(5275,1.5)(5280,0.3)(5285,2.1)(5290,0.8)(5295,2.9)(5300,0.2)(5305,1.7)(5310,0.5)(5315,2.4)(5320,0.9)(5325,1.4)(5330,0.3)(5335,2.7)(5340,0.6)(5345,3.3)(5350,0.2)(5355,1.9)(5360,0.4)(5365,2.3)(5370,0.7)(5375,1.6)(5380,0.3)(5385,2.8)(5390,0.5)(5395,2.0)(5400,0.2)(5405,3.4)(5410,0.8)(5415,1.5)(5420,0.4)(5425,2.5)(5430,0.6)(5435,1.8)(5440,0.2)(5445,2.9)(5450,0.7)(5455,2.2)(5460,0.3)(5465,1.4)(5470,0.9)(5475,2.6)(5480,0.4)(5485,3.0)(5490,0.2)(5495,1.7)(5500,0.6)(5505,2.3)(5510,0.3)(5515,3.5)(5520,0.8)(5525,1.9)(5530,0.2)(5535,2.7)(5540,0.5)(5545,1.6)(5550,0.3)(5555,2.4)(5560,0.7)(5565,3.1)(5570,0.4)(5575,1.8)(5580,0.2)(5585,2.6)(5590,0.9)(5595,1.5)(5600,0.3)(5605,2.9)(5610,0.6)(5615,2.1)(5620,0.2)(5625,3.2)(5630,0.5)(5635,1.7)(5640,0.8)(5645,2.4)(5650,0.3)(5655,1.4)(5660,0.6)(5665,2.8)(5670,0.2)(5675,2.0)(5680,0.4)(5685,3.0)(5690,0.7)(5695,1.6)(5700,0.3)(5705,2.5)(5710,0.9)(5715,1.8)(5720,0.2)(5725,2.7)(5730,0.5)(5735,3.3)(5740,0.3)(5745,1.5)(5750,0.6)(5755,2.2)(5760,0.2)(5765,2.9)(5770,0.8)(5775,1.7)(5780,0.4)(5785,2.4)(5790,0.2)(5795,3.1)(5800,0.6)(5805,1.9)(5810,0.3)(5815,2.6)(5820,0.9)(5825,1.4)(5830,0.2)(5835,2.8)(5840,0.5)(5845,2.0)(5850,0.3)(5855,3.5)(5860,0.7)(5865,1.6)(5870,0.2)(5875,2.3)(5880,0.4)(5885,3.0)(5890,0.8)(5895,1.8)(5900,0.3)(5905,2.5)(5910,0.6)(5915,1.5)(5920,0.2)(5925,2.9)(5930,0.5)(5935,2.1)(5940,0.3)(5945,3.2)(5950,0.7)(5955,1.7)(5960,0.2)(5965,2.4)(5970,0.6)(5975,1.4)(5980,0.3)(5985,2.8)(5990,0.8)(5995,1.9)(6000,0.4)};
\node at (rel axis cs:0.852,0.86) {I};
\end{axis}
% ---------------- J
\begin{axis}[rbot, at={(398pt,-135pt)}, height=42.67pt]
\addplot[mg, line width=0.8pt] coordinates {(5000,0)(6000,0)};
\node at (rel axis cs:0.846,0.83) {J};
\end{axis}
% ---------------- K
\begin{axis}[rbot, at={(398pt,-177.67pt)}, height=42.67pt]
\addplot[black!75, line width=0.5pt] coordinates {(5000,0.4)(5004,0.2)(5008,0.35)(5012,0.15)(5016,0.3)(5020,0.2)(5024,0.35)(5028,0.25)(5034,0.35)(5040,0.3)(5048,0.4)(5056,0.38)(5064,0.45)(5072,0.42)(5080,0.5)(5088,0.48)(5096,0.56)(5104,0.6)(5112,0.62)(5120,0.68)(5128,0.7)(5136,0.72)(5144,0.68)(5152,0.66)(5160,0.6)(5168,0.55)(5176,0.48)(5182,0.4)(5186,0.25)(5190,0.4)(5194,0.1)(5198,0.35)(5202,0.15)(5206,0.3)(5210,0.2)(5216,0.35)(5224,0.4)(5232,0.45)(5240,0.5)(5248,0.52)(5256,0.56)(5264,0.6)(5272,0.58)(5280,0.62)(5288,0.58)(5296,0.5)(5304,0.45)(5310,0.35)(5316,0.3)(5322,0.2)(5328,0.3)(5334,0.25)(5340,0.4)(5348,0.45)(5356,0.5)(5364,0.55)(5372,0.6)(5380,0.58)(5388,0.62)(5396,0.64)(5404,0.6)(5412,0.63)(5420,0.58)(5428,0.55)(5436,0.57)(5444,0.52)(5452,0.5)(5460,0.46)(5468,0.48)(5476,0.42)(5484,0.45)(5492,0.4)(5500,0.46)(5508,0.42)(5516,0.47)(5524,0.5)(5532,0.48)(5540,0.55)(5548,0.58)(5556,0.6)(5564,0.65)(5572,0.68)(5580,0.72)(5588,0.75)(5596,0.78)(5604,0.76)(5612,0.7)(5620,0.62)(5628,0.55)(5636,0.45)(5642,0.35)(5646,0.2)(5650,0.35)(5654,0.15)(5658,0.3)(5662,0.1)(5666,0.3)(5670,0.2)(5676,0.35)(5682,0.3)(5690,0.42)(5698,0.45)(5706,0.5)(5714,0.52)(5722,0.55)(5730,0.58)(5738,0.6)(5746,0.62)(5754,0.6)(5762,0.58)(5770,0.55)(5778,0.5)(5786,0.45)(5794,0.4)(5800,0.35)(5806,0.3)(5810,0.2)(5814,0.3)(5818,0.12)(5822,0.28)(5826,0.18)(5832,0.35)(5840,0.42)(5848,0.48)(5856,0.5)(5864,0.56)(5872,0.6)(5880,0.62)(5888,0.58)(5896,0.55)(5904,0.52)(5912,0.48)(5920,0.45)(5928,0.42)(5936,0.46)(5944,0.5)(5952,0.48)(5960,0.52)(5968,0.55)(5976,0.5)(5984,0.53)(5992,0.47)(6000,0.45)};
\node at (rel axis cs:0.846,0.81) {K};
\end{axis}
% ---------------- L
\begin{axis}[rbot, at={(398pt,-220.33pt)}, height=42.67pt, xticklabels={5100,5500,5900}]
\addplot[black, line width=0.6pt] coordinates {(5000,0.2)(5005,0.9)(5010,-0.7)(5015,0.7)(5020,-0.3)(5025,0.6)(5030,0.3)(5035,1.0)(5040,0.4)(5045,0.8)
(5050,0.1)(5055,0.9)(5060,0.5)(5065,0.3)(5070,1.1)(5075,0.2)(5080,0.8)(5085,0.0)(5090,0.7)(5095,0.4)
(5100,1.0)(5105,0.3)(5110,0.8)(5115,0.1)(5120,0.9)(5125,0.5)(5130,1.2)(5135,0.2)(5140,0.7)(5145,0.4)
(5150,1.1)(5155,0.3)(5160,0.9)(5165,0.0)(5170,0.6)(5175,0.3)(5180,1.0)(5185,-0.4)(5190,0.5)(5195,0.8)
(5200,0.2)(5205,0.9)(5210,0.4)(5215,1.0)(5220,0.1)(5225,0.7)(5230,0.5)(5235,0.9)(5240,0.2)(5245,0.6)
(5250,0.8)(5255,0.3)(5260,1.0)(5265,0.4)(5270,0.7)(5275,0.1)(5280,0.9)(5285,0.5)(5290,0.8)(5295,0.2)
(5300,0.6)(5305,0.9)(5310,0.3)(5315,0.7)(5320,0.0)(5325,0.8)(5330,0.4)(5335,1.0)(5340,0.3)(5345,0.6)
(5350,0.9)(5355,0.2)(5360,0.7)(5365,0.5)(5370,1.1)(5375,0.3)(5380,0.8)(5385,0.1)(5390,0.9)(5395,0.4)
(5400,0.7)(5405,0.2)(5410,1.0)(5415,0.4)(5420,0.8)(5425,0.0)(5430,0.6)(5435,0.9)(5440,0.3)(5445,0.7)
(5450,0.1)(5455,0.8)(5460,0.5)(5465,1.0)(5470,0.2)(5475,0.6)(5480,-0.2)(5485,0.7)(5490,0.4)(5495,0.9)
(5500,0.3)(5505,1.1)(5510,0.4)(5515,0.8)(5520,0.1)(5525,0.7)(5530,0.5)(5535,1.0)(5540,0.2)(5545,0.6)
(5550,0.9)(5555,0.3)(5560,0.7)(5565,0.4)(5570,1.1)(5575,0.2)(5580,0.8)(5585,0.5)(5590,0.3)(5595,0.9)
(5600,0.6)(5605,0.1)(5610,0.8)(5615,0.3)(5620,0.5)(5625,0.0)(5630,-0.5)(5635,0.4)(5640,0.9)(5645,0.2)
(5650,1.0)(5655,0.4)(5660,0.8)(5665,0.3)(5670,1.1)(5675,0.5)(5680,0.7)(5685,0.2)(5690,0.9)(5695,0.4)
(5700,0.8)(5705,0.1)(5710,1.0)(5715,0.5)(5720,0.7)(5725,0.3)(5730,1.2)(5735,0.4)(5740,0.8)(5745,0.2)
(5750,0.9)(5755,0.5)(5760,0.6)(5765,0.1)(5770,1.0)(5775,0.3)(5780,0.8)(5785,0.4)(5790,0.7)(5795,0.2)
(5800,1.0)(5805,0.5)(5810,0.8)(5815,0.0)(5820,0.9)(5825,0.3)(5830,0.6)(5835,0.4)(5840,1.1)(5845,0.2)
(5850,0.7)(5855,0.5)(5860,0.9)(5865,0.3)(5870,0.8)(5875,-0.6)(5880,0.6)(5885,0.2)(5890,0.9)(5895,0.4)
(5900,0.7)(5905,0.1)(5910,0.8)(5915,0.5)(5920,1.0)(5925,0.3)(5930,0.7)(5935,-0.1)(5940,0.6)(5945,0.4)
(5950,0.9)(5955,0.3)(5960,0.8)(5965,0.5)(5970,1.0)(5975,0.4)(5980,0.7)(5985,0.2)(5990,0.9)(5995,0.5)(6000,0.6)};
\node at (rel axis cs:0.846,0.81) {L};
\end{axis}
% ---------------- labels
\node[rotate=90] at (15pt,-65pt) {x\textsubscript{i}, <x\textsubscript{i}>};
\node[rotate=90] at (15pt,-190pt) {x\textsubscript{i}, <x\textsubscript{i}>};
\node[rotate=90] at (371pt,-70pt) {s\textsubscript{i}};
\node[rotate=90] at (358pt,-199pt) {w};
\node at (196pt,-286pt) {Time};
\node at (554pt,-286pt) {Time};
\end{tikzpicture}
\end{document}
